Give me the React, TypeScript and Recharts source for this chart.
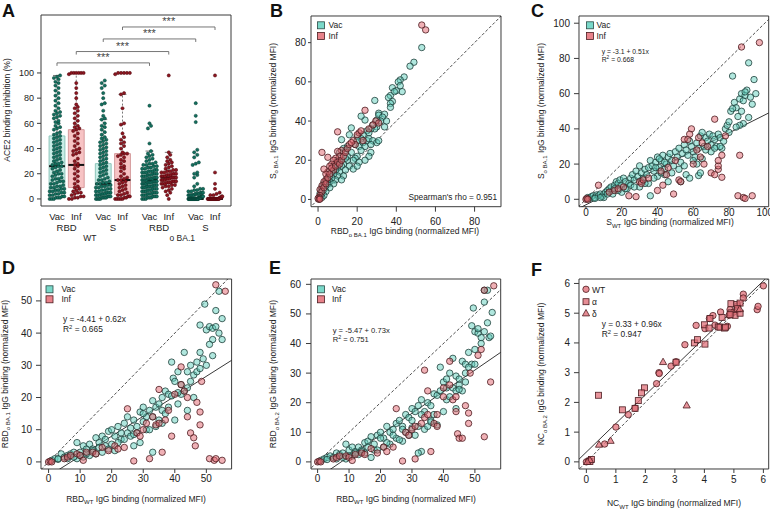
import React from 'react';
import { ComposedChart, Scatter, XAxis, YAxis, ReferenceLine, ReferenceArea } from 'recharts';

const FONT = '"Liberation Sans", Arial, Helvetica, sans-serif';
const INK = '#3a3a3a';
const VAC_FILL = '#62cfbe';
const VAC_EDGE = '#1f3f3a';
const INF_FILL = '#e2646e';
const INF_EDGE = '#4b1c20';
const VAC_DOT = '#13705f';
const INF_DOT = '#8e1620';

type Pt = [number, number];
type Box = { l: number; r: number; t: number; b: number };

// ---------- panel A data ----------
const groupPos = [1, 2, 3.4, 4.4, 5.8, 6.8, 8.2, 9.2];
const groupKind = ['Vac', 'Inf', 'Vac', 'Inf', 'Vac', 'Inf', 'Vac', 'Inf'];
const antigenPos = [1.5, 3.9, 6.3, 8.7];
const antigenLabels = ['RBD', 'S', 'RBD', 'S'];
const variantPos = [2.7, 7.5];
const variantLabels = ['WT', 'ο BA.1'];

const q1 = [6, 9, 3, 3.5, 8, 12, 0, 0];
const medians = [26, 27, 12, 15, 15, 17, 0, 0];
const q3 = [50, 55, 28, 36, 24, 22, 1.5, 0.5];
const whiskHi = [98, 100, 63, 83, 38, 37, 4, 1];

const vacRbdWt = [0, 0, 0, 1, 1, 1, 2, 2, 3, 3, 4, 4, 5, 5, 6, 6, 7, 7, 8, 8, 9, 9, 10, 10, 11,
  12, 12, 13, 14, 14, 15, 16, 16, 17, 18, 19, 20, 20, 21, 22, 23, 24, 25, 26, 26, 27, 28, 28, 29, 30,
  31, 32, 33, 34, 35, 36, 37, 38, 39, 40, 41, 42, 43, 44, 45, 46, 47, 48, 49, 50,
  51, 52, 53, 55, 56, 57, 58, 60, 61, 62, 64, 65, 66, 67, 68, 69, 70,
  72, 74, 76, 78, 80, 82, 84, 86, 88, 90, 92, 93, 95, 96, 97, 98];
const infRbdWt = [0, 0, 1, 1, 2, 2, 3, 4, 5, 5, 6, 7, 8, 9, 10, 12, 14, 16, 18, 20, 22, 24, 26, 27, 28, 30,
  32, 35, 36, 37, 38, 39, 40, 42, 44, 46, 48, 50, 52, 54, 55, 56, 57, 58, 60, 62, 64, 66, 68, 70, 72, 73,
  75, 80, 84, 88, 92, 99, 100, 100, 100, 100, 100, 100];
const vacSWt = [0, 0, 0, 0, 1, 1, 1, 1, 2, 2, 2, 3, 3, 3, 4, 4, 4, 5, 5, 5, 6, 6, 7, 7, 8, 8, 9, 9, 10, 10,
  11, 11, 12, 12, 13, 13, 14, 15, 15, 16, 17, 18, 19, 20, 21, 22, 23, 24, 25, 26, 27, 28, 29, 30, 31, 32,
  33, 34, 35, 36, 37, 38, 39, 40, 41, 42, 43, 44, 45, 46, 47, 48, 49, 51, 53, 55, 57, 58, 60, 63, 64, 66,
  70, 75, 76, 80, 84, 88, 90, 92, 94];
const infSWt = [0, 0, 0, 0, 0, 1, 1, 2, 2, 3, 3, 4, 5, 6, 7, 8, 9, 10, 11, 12, 13, 14, 15, 15, 16, 17, 18,
  20, 22, 24, 25, 26, 28, 30, 31, 33, 34, 35, 36, 36, 37, 40, 42, 44, 45, 47, 49, 52, 59, 60, 72, 83, 84,
  99, 100, 100, 100, 100, 100];
const vacRbdBa1 = [0, 0, 0, 1, 1, 1, 2, 2, 2, 3, 3, 3, 4, 4, 4, 5, 5, 5, 6, 6, 6, 7, 7, 7, 8, 8, 8, 9, 9, 9,
  10, 10, 10, 10, 11, 11, 11, 12, 12, 12, 12, 13, 13, 13, 13, 14, 14, 14, 14, 15, 15, 15, 15, 16, 16, 16,
  16, 17, 17, 17, 18, 18, 18, 19, 19, 19, 20, 20, 20, 21, 21, 21, 22, 22, 22, 23, 23, 24, 24, 25, 25, 26,
  26, 27, 27, 28, 28, 29, 30, 31, 32, 33, 34, 35, 36, 38, 44, 56, 58, 60, 74];
const infRbdBa1 = [0, 3, 5, 6, 7, 8, 9, 10, 10, 11, 11, 12, 12, 12, 13, 13, 13, 14, 14, 14, 15, 15, 15, 16,
  16, 16, 17, 17, 17, 17, 18, 18, 18, 19, 19, 19, 20, 20, 20, 21, 21, 22, 22, 23, 23, 24, 25, 26, 27, 28,
  29, 30, 31, 33, 35, 37, 98];
const vacSBa1 = [0, 0, 0, 0, 0, 0, 0, 0, 0, 0, 0, 0, 0, 0, 0, 0, 0, 0, 0, 0, 0, 0, 0, 0, 0, 0, 0, 0, 0, 0,
  1, 1, 1, 1, 1, 1, 1, 1, 2, 2, 2, 2, 2, 2, 3, 3, 3, 3, 3, 4, 4, 4, 4, 5, 5, 5, 6, 6, 7, 7, 8, 8, 10, 12,
  17, 19, 20, 21, 27, 28, 29, 33, 35, 37, 39, 61, 66, 76];
const infSBa1 = [0, 0, 0, 0, 0, 0, 0, 0, 0, 0, 0, 0, 0, 0, 0, 0, 0, 0, 0, 0, 0, 0, 1, 1, 1, 1, 2, 2, 3, 3,
  4, 5, 8, 12, 21, 98];
const groupValues = [vacRbdWt, infRbdWt, vacSWt, infSWt, vacRbdBa1, infRbdBa1, vacSBa1, infSBa1];

const bracketFrom = [1, 2, 3.4, 4.4];
const bracketTo = [5.8, 6.8, 8.2, 9.2];
const bracketLevel = [108, 117, 127, 136.5];
const bracketStars = ['***', '***', '***', '***'];

// ---------- panel B ----------
const bVac: Pt[] = [[53, 77.5], [49, 70], [47, 68], [44, 62.5], [42, 61], [41, 60], [42, 58], [43, 55], [38, 57], [40, 55.5],
  [39, 55], [37, 53], [36, 52], [38, 50], [37, 49], [37, 47], [29, 50.5], [31, 44], [31, 43], [34, 43.5], [33, 42],
  [35, 40], [32, 40], [30, 40.5], [34, 37], [30, 37], [29, 36], [28, 38], [27, 36], [24, 40.5], [22, 42.5], [25, 35],
  [26, 34], [23, 33], [22, 31], [20, 32], [20, 30], [19, 28], [21, 27], [23, 29], [25, 30], [26, 31], [28, 30], [30, 29],
  [31, 30], [27, 28], [24, 27], [22, 25], [20, 22], [19, 21], [18, 20], [17, 24], [17, 36.5], [16, 33], [15, 27],
  [14, 25], [13, 26], [12, 30.5], [11, 24], [15, 20], [13, 18], [16, 17], [18, 15.5], [12, 17], [10, 16], [11, 14],
  [9, 15], [10, 12], [8, 13], [9, 10], [7, 11], [6, 9], [8, 8], [5, 8], [6, 6], [4, 7], [3, 5], [4, 4], [2, 3], [3, 2],
  [2, 1], [1, 1], [27, 24], [26, 22], [24, 20], [21, 19], [20, 17], [15, 22], [14, 21], [13, 12], [12, 10], [14, 15],
  [10, 20], [9, 18], [8, 17], [11, 19], [5, 10], [7, 14], [6, 12], [4, 9], [3, 8], [2, 6], [1, 3], [1.5, 4.5]];
const bInf: Pt[] = [[53, 89], [55, 86.5], [24, 45.5], [29.5, 40], [31, 39], [28, 38], [26, 36], [10, 34.5], [21, 34],
  [20, 33], [18, 30], [23, 30], [19, 28], [2, 24], [12, 25], [10, 24.5], [11, 22], [9, 21], [8, 20], [5, 21.5], [7, 18],
  [6, 17], [8, 15], [5, 14], [4, 13], [3, 15.5], [4, 10], [3, 9], [2, 7], [1, 5], [2, 4], [1, 2], [0.5, 1], [0, 0.5],
  [0.5, 0], [1, 0.2], [3, 6], [4, 8], [5, 11], [6, 13], [7, 16], [9, 17], [10, 19], [11, 18], [12, 20], [13, 22],
  [14, 24], [15, 26], [16, 28], [17, 29], [22, 35]];

// ---------- panel C ----------
const cVac: Pt[] = [[1, 1], [2, 0.5], [3, 1.5], [4, 2], [5, 1], [6, 2.5], [7, 2], [8, 3], [9, 1.5], [10, 3], [11, 4],
  [12, 5], [13, 6], [14, 7], [15, 5], [16, 8], [17, 10], [18, 9], [19, 11], [20, 8], [21, 12], [22, 10], [23, 6],
  [24, 9], [25, 12], [26, 14], [27, 11], [28, 16], [29, 13], [30, 19], [31, 15], [32, 12], [33, 17], [34, 14],
  [35, 18], [36, 22], [37, 19], [38, 16], [39, 21], [40, 24], [41, 18], [42, 22], [43, 25], [44, 17], [45, 20],
  [46, 24], [47, 26], [48, 22], [49, 19], [50, 27], [51, 24], [52, 29], [53, 21], [54, 26], [55, 31], [56, 28],
  [57, 25], [58, 33], [59, 30], [60, 27], [61, 24], [62, 32], [63, 29], [64, 36], [65, 38], [66, 30], [67, 35],
  [68, 33], [69, 37], [70, 31], [71, 36], [72, 34], [73, 30], [74, 37], [75, 35], [76, 29], [77, 33], [78, 40],
  [79, 42], [80, 44], [81, 50], [82, 70], [83, 55], [84, 52], [85, 47], [86, 57], [87, 60], [88, 56], [89, 59],
  [90, 62], [91, 77.5], [92, 58], [93, 54], [94, 68], [95, 60], [91, 46.5], [88, 43], [86, 42], [84, 41], [87, 50],
  [89, 61], [82, 51.5], [80, 38], [75, 30], [70, 27], [65, 23], [60, 22], [55, 19], [52, 17], [48, 15], [44, 14],
  [40, 13], [36, 2], [35, 9], [30, 7], [25, 8], [20, 4], [15, 3], [10, 1], [38, 12], [42, 15], [46, 10], [53, 10],
  [56, 14], [58, 12], [63, 13.5], [64, 15], [62, 20], [67, 28], [72, 29], [44, 21], [41, 23], [39, 18], [33, 9],
  [31, 10], [27, 7], [22, 6], [18, 5], [16, 6], [12, 3], [8, 1], [5, 0.5]];
const cInf: Pt[] = [[87, 86.5], [97, 89], [0, 0], [0.5, 0.5], [1, 0], [7, 8], [13, 4], [16, 5], [18, 6], [21, 7], [24, 2],
  [28, 1.5], [30, 10], [31, 9], [32, 11], [35, 12], [40, 5], [43, 8], [45, 14], [49, 3], [52, 11], [53, 10], [55, 34],
  [57, 34], [59, 40], [58, 37], [62, 28], [64, 24], [66, 20], [60, 20], [70, 15], [72, 14], [74, 17], [74, 19],
  [76, 25], [74, 22], [76, 12.5], [72, 45.5], [78, 36], [86, 25], [85, 2], [88, 1], [89, 0.5], [93, 2], [42, 16],
  [46, 18], [50, 22], [65, 32], [68, 30], [63, 35]];

// ---------- panel D ----------
const dVac: Pt[] = [[1, 0.5], [2, 1], [3, 0.8], [4, 2.5], [5, 1.5], [6, 2], [7, 2.5], [8, 3], [9, 6], [10, 3], [11, 5],
  [12, 4], [13, 5.5], [14, 4], [15, 7.5], [16, 6], [17, 8], [18, 5], [19, 9.5], [20, 10], [21, 8], [22, 11], [23, 9],
  [24, 12], [25, 14], [26, 10.5], [27, 13], [28, 11], [29, 15.5], [30, 17], [31, 14], [32, 16], [33, 19], [34, 17],
  [35, 18], [36, 20], [37, 22], [38, 21], [39, 31], [39.5, 26], [40, 25], [41, 28], [42, 24], [43, 34], [44, 28],
  [45, 30], [46, 27], [47, 31], [48, 34], [49, 32], [50, 30], [48, 42.5], [49.5, 49], [50, 41], [51, 42], [52, 41.5],
  [53, 42], [52, 38], [53, 47], [54, 53], [55, 44.5], [54, 40], [55, 38], [51, 36.5], [52, 33], [45, 25], [43, 22],
  [41, 18], [40, 13], [38, 17], [36, 16], [34, 11], [33, 3], [31, 10], [29, 6], [27, 5], [25, 9], [23, 7], [21, 3.5],
  [19, 4], [17, 3], [15, 2.5], [13, 2], [11, 1.5], [9, 1], [44, 16], [46, 20], [42, 21], [39, 20.5], [37, 15],
  [35, 13], [30, 12.5], [28, 9], [26, 8], [24, 7], [22, 6], [20, 5.5], [18, 7], [16, 4.5], [14, 3.5], [12, 2.5],
  [10, 2], [8, 1.5], [6, 1], [3, 1], [33, 14], [32, 10], [27, 8.5], [47, 28], [48, 29], [44, 23], [41, 21.5],
  [36, 12], [30, 15]];
const dInf: Pt[] = [[0, 0], [0.5, 0.2], [1, 0], [5, 1], [6, 1.5], [7, 2], [9, 2.5], [10, 2], [11, 0.5], [12, 3], [14, 3],
  [15, 2.5], [17, 4.5], [19, 3.5], [21, 5], [22, 4], [24, 4.5], [25, 16.5], [27, 0.3], [28, 9], [29, 8], [30, 10],
  [31, 12], [32, 1], [33, 14], [34, 11.5], [35, 12], [36, 3], [37, 13], [39, 8], [40, 21], [42, 29.5], [43, 22],
  [44, 14], [45, 9], [46, 7.5], [46.5, 5], [48, 15.5], [48, 11.5], [47, 18.5], [48.5, 25], [51, 1], [52.5, 0.5],
  [53, 1], [55, 0.5], [53, 55], [56, 53], [44, 20], [38, 16], [42, 24], [35, 22.5]];

// ---------- panel E ----------
const eVac: Pt[] = [[1, 0.5], [2, 1], [3, 1.5], [4, 2], [5, 1.5], [6, 3], [7, 2.5], [8, 3], [9, 6], [10, 4], [11, 5],
  [12, 3.5], [13, 5], [14, 4], [15, 6.5], [16, 7], [17, 8.5], [18, 4], [19, 9], [20, 10], [21, 8], [22, 12], [23, 10],
  [24, 11], [25, 13], [26, 14], [27, 12], [28, 16], [29, 15], [30, 18], [31, 17], [32, 19], [33, 21], [34, 17],
  [35, 20], [36, 19], [37, 23], [38, 22.5], [39, 32], [40, 27], [41, 28], [42, 30], [43, 35], [44, 29], [45, 26],
  [46, 34], [47, 33], [48, 37], [49, 33], [50, 33], [49, 46], [49.5, 52], [50, 44], [51, 43.5], [51, 45], [52, 42],
  [53, 54], [53, 44], [54, 58], [54.5, 42], [55, 42.5], [55.5, 50.5], [52, 40], [53, 58], [54, 47], [50, 38],
  [45, 28], [43, 25], [41, 21], [40, 17], [38, 12.5], [36, 14], [34, 11], [33, 3.5], [32, 3], [31, 9], [29, 9],
  [27, 7], [25, 8], [23, 6], [21, 5], [19, 4], [17, 1.5], [15, 3], [13, 2.5], [11, 2], [9, 1], [44, 18], [46, 24],
  [42, 22], [39, 24], [37, 16], [35, 12], [30, 14], [28, 10], [26, 7.5], [24, 9], [22, 6.5], [20, 8], [18, 6],
  [16, 5], [14, 3.5], [12, 3], [10, 2], [8, 1.5], [6, 1], [3, 0.8], [33, 16], [32, 12], [27, 11], [47, 30], [48, 32],
  [44, 24], [41, 25], [36, 13.5], [30, 11.5], [45, 24.5], [47, 27]];
const eInf: Pt[] = [[0, 0], [0.5, 0.2], [1, 0], [5, 1], [6, 1.5], [7, 2], [9, 2], [10, 1.5], [11, 0.5], [12, 2.5], [14, 3],
  [15, 2.5], [17, 4.5], [19, 3], [21, 5], [22, 3.5], [24, 5], [25, 18], [27, 0.3], [28, 10], [29, 9], [30, 11],
  [31, 12], [31, 1], [33, 13], [34, 15], [35, 16], [36, 3.5], [37, 13], [38, 12], [40, 22], [42, 34], [43, 21],
  [44, 17], [44.5, 9.5], [45, 8], [46, 8], [48, 16.5], [48, 13], [47, 19], [48.5, 30], [51, 36], [52, 38], [53, 8.5],
  [55, 27], [53, 58], [56, 59.5], [44, 22], [38, 16], [42, 26], [35, 24], [34, 31], [40, 25]];

// ---------- panel F ----------
const fWt: Pt[] = [[0, 0], [0.07, 0.04], [0.62, 0.6], [1, 1.17], [1.42, 1.59], [1.65, 1.81], [2.38, 2.63], [2.46, 3.0],
  [2.47, 2.97], [2.87, 3.22], [3.34, 3.94], [3.72, 4.59], [4.02, 4.48], [4.17, 4.82], [4.29, 4.92], [4.36, 4.6],
  [4.55, 5.04], [4.78, 4.56], [4.84, 4.93], [4.87, 5.12], [5.0, 5.04], [5.13, 5.25], [5.32, 5.64], [5.32, 5.51],
  [5.79, 5.12], [5.82, 5.23], [6.0, 5.92], [3.04, 3.37]];
const fAlpha: Pt[] = [[0.41, 2.24], [1.22, 1.75], [1.97, 2.49], [1.87, 2.32], [1.76, 2.06], [3.04, 3.35], [3.66, 4.0],
  [3.77, 4.11], [4.02, 3.96], [4.0, 4.61], [4.16, 4.5], [4.19, 4.82], [4.47, 4.54], [4.53, 4.53], [4.68, 4.5],
  [4.72, 4.53], [4.9, 5.32], [4.9, 5.01], [5.04, 4.93], [5.1, 5.29], [5.21, 5.34], [5.21, 5.0], [4.6, 4.86],
  [4.87, 4.95], [0.12, 0.01], [0.17, 0.08], [5.13, 5.15], [1.65, 1.8]];
const fDelta: Pt[] = [[0.43, 0.58], [0.82, 0.71], [2.6, 3.36], [3.4, 1.9], [0.12, 0.06], [0.03, 0], [5.2, 5.14]];

// ---------- layout helpers ----------
const YW = 40;
const MT = 8;
const MR = 4;

function place(box: Box, xh: number) {
  return {
    style: { position: 'absolute' as const, left: box.l - YW, top: box.t - MT },
    width: YW + (box.r - box.l) + MR,
    height: MT + (box.b - box.t) + xh,
    margin: { top: MT, right: MR, bottom: 0, left: 0 },
  };
}

const tickStyle = { fontSize: 10, fill: '#222', fontFamily: FONT };

function swarm(values: number[], center: number) {
  const sorted = [...values].sort((a, b) => a - b);
  const bins: number[][] = [];
  let cur: number[] = [];
  let start = sorted[0];
  sorted.forEach((v) => {
    if (v - start > 2.6 && cur.length) {
      bins.push(cur);
      cur = [];
      start = v;
    }
    cur.push(v);
  });
  if (cur.length) bins.push(cur);
  const out: { x: number; y: number }[] = [];
  bins.forEach((b) => {
    const n = b.length;
    const step = n > 1 ? Math.min(0.16, 0.76 / (n - 1)) : 0;
    b.forEach((v, i) => out.push({ x: center + (i - (n - 1) / 2) * step, y: v }));
  });
  return out;
}

function Marker(props: any) {
  const { cx, cy, kind, fill, edge, opacity } = props;
  if (cx == null || cy == null) return null;
  if (kind === 'square') {
    return <rect x={cx - 3} y={cy - 3} width={6} height={6} fill={fill} fillOpacity={opacity} stroke={edge} strokeWidth={0.8} />;
  }
  if (kind === 'triangle') {
    return <path d={`M${cx},${cy - 3.8}L${cx + 3.6},${cy + 2.6}L${cx - 3.6},${cy + 2.6}Z`} fill={fill} fillOpacity={opacity} stroke={edge} strokeWidth={0.8} />;
  }
  return <circle cx={cx} cy={cy} r={3.2} fill={fill} fillOpacity={opacity} stroke={edge} strokeWidth={0.8} />;
}

type Series = { pts: Pt[]; kind: string; fill: string; edge: string; opacity: number };
type AxisGap = { xs: number; xm: number; ys: number; ym: number };

function ScatterPanel(props: {
  box: Box; xDomain: number[]; yDomain: number[]; xTicks: number[]; yTicks: number[];
  series: Series[]; fit?: number[]; gap: AxisGap;
}) {
  const { box, xDomain, yDomain, xTicks, yTicks, series, fit, gap } = props;
  const p = place(box, 30);
  const lo = Math.min(xDomain[0], yDomain[0]) - 10;
  const hi = Math.max(xDomain[1], yDomain[1]) + 10;
  return (
    <div style={p.style}>
      <ComposedChart width={p.width} height={p.height} margin={p.margin}>
        <XAxis type="number" dataKey="x" domain={xDomain} ticks={xTicks} interval={0} allowDataOverflow
          tick={tickStyle} tickSize={gap.xs} tickMargin={gap.xm} axisLine={false} tickLine={{ stroke: INK }} height={30} />
        <YAxis type="number" dataKey="y" domain={yDomain} ticks={yTicks} interval={0} allowDataOverflow
          tick={tickStyle} tickSize={gap.ys} tickMargin={gap.ym} axisLine={false} tickLine={{ stroke: INK }} width={YW} />
        <ReferenceLine segment={[{ x: lo, y: lo }, { x: hi, y: hi }]} stroke="#222" strokeWidth={0.8}
          strokeDasharray="3 2" ifOverflow="hidden" />
        {fit ? (
          <ReferenceLine segment={[{ x: lo, y: fit[0] + fit[1] * lo }, { x: hi, y: fit[0] + fit[1] * hi }]}
            stroke="#222" strokeWidth={0.9} ifOverflow="hidden" />
        ) : null}
        {series.map((s, i) => (
          <Scatter key={i} data={s.pts.map(([x, y]) => ({ x, y }))} isAnimationActive={false}
            shape={(sp: any) => <Marker cx={sp.cx} cy={sp.cy} kind={s.kind} fill={s.fill} edge={s.edge} opacity={s.opacity} />} />
        ))}
        <ReferenceArea x1={xDomain[0]} x2={xDomain[1]} y1={yDomain[0]} y2={yDomain[1]} fill="none" fillOpacity={0}
          stroke={INK} strokeWidth={1} ifOverflow="visible" />
      </ComposedChart>
    </div>
  );
}

function ATick(props: any) {
  const { x, y, payload } = props;
  const v = payload.value;
  const base = { x, textAnchor: 'middle' as const, fontFamily: FONT, fill: '#222' };
  let i = groupPos.indexOf(v);
  if (i >= 0) return <text {...base} y={y + 14} fontSize={9.5}>{groupKind[i]}</text>;
  i = antigenPos.indexOf(v);
  if (i >= 0) return <text {...base} y={y + 24.5} fontSize={9.5}>{antigenLabels[i]}</text>;
  i = variantPos.indexOf(v);
  if (i >= 0) return <text {...base} y={y + 35} fontSize={8.5}>{variantLabels[i]}</text>;
  return null;
}

function PanelA() {
  const box: Box = { l: 41, r: 231, t: 15, b: 206 };
  const p = place(box, 42);
  const xDomain = [0.17, 10.03];
  const yDomain = [-5.6, 146];
  const half = 0.41;
  return (
    <div style={p.style}>
      <ComposedChart width={p.width} height={p.height} margin={p.margin}>
        <XAxis type="number" dataKey="x" domain={xDomain} allowDataOverflow interval={0}
          ticks={[...groupPos, ...antigenPos, ...variantPos]} tick={<ATick />} tickSize={0} tickMargin={0}
          axisLine={false} tickLine={false} height={42} />
        <YAxis type="number" dataKey="y" domain={yDomain} ticks={[0, 20, 40, 60, 80, 100]} interval={0}
          allowDataOverflow tick={{ ...tickStyle, fontSize: 9 }} tickSize={4} tickMargin={3} axisLine={false}
          tickLine={{ stroke: INK }} width={YW} />
        {groupPos.map((pos, i) => {
          const vac = i % 2 === 0;
          return (
            <ReferenceArea key={`box${i}`} x1={pos - half} x2={pos + half} y1={q1[i]} y2={q3[i]}
              fill={vac ? '#c8ede6' : '#f7c3c4'} fillOpacity={1} stroke={vac ? '#8cc4ba' : '#d59a9c'}
              strokeWidth={1} ifOverflow="visible" />
          );
        })}
        {groupPos.map((pos, i) => (
          <ReferenceLine key={`wh${i}`} segment={[{ x: pos, y: q3[i] }, { x: pos, y: whiskHi[i] }]}
            stroke="#555" strokeWidth={0.8} strokeDasharray="2 2" />
        ))}
        {groupPos.map((pos, i) => (
          <ReferenceLine key={`cap${i}`} segment={[{ x: pos - half / 2, y: whiskHi[i] }, { x: pos + half / 2, y: whiskHi[i] }]}
            stroke="#555" strokeWidth={0.8} />
        ))}
        {groupValues.map((vals, i) => (
          <Scatter key={`sw${i}`} data={swarm(vals, groupPos[i])} isAnimationActive={false}
            shape={(sp: any) => (
              <circle cx={sp.cx} cy={sp.cy} r={1.6} fill={i % 2 === 0 ? VAC_DOT : INF_DOT}
                stroke={i % 2 === 0 ? '#063a31' : '#4a060c'} strokeWidth={0.5} />
            )} />
        ))}
        {groupPos.map((pos, i) => (
          <ReferenceLine key={`med${i}`} segment={[{ x: pos - half, y: medians[i] }, { x: pos + half, y: medians[i] }]}
            stroke="#111" strokeWidth={2} />
        ))}
        {bracketFrom.map((f, i) => (
          <ReferenceLine key={`br${i}`} segment={[{ x: f, y: bracketLevel[i] }, { x: bracketTo[i], y: bracketLevel[i] }]}
            stroke="#666" strokeWidth={0.9}
            label={(lp: any) => {
              const vb = lp.viewBox || {};
              return (
                <text x={(vb.x ?? 0) + (vb.width ?? 0) / 2} y={(vb.y ?? 0) - 2} textAnchor="middle" fontSize={11}
                  fontFamily={FONT} fill="#444">{bracketStars[i]}</text>
              );
            }} />
        ))}
        {bracketFrom.map((f, i) => (
          <ReferenceLine key={`bl${i}`} segment={[{ x: f, y: bracketLevel[i] }, { x: f, y: bracketLevel[i] - 2.4 }]}
            stroke="#666" strokeWidth={0.9} />
        ))}
        {bracketTo.map((t, i) => (
          <ReferenceLine key={`brr${i}`} segment={[{ x: t, y: bracketLevel[i] }, { x: t, y: bracketLevel[i] - 2.4 }]}
            stroke="#666" strokeWidth={0.9} />
        ))}
        <ReferenceArea x1={xDomain[0]} x2={xDomain[1]} y1={yDomain[0]} y2={yDomain[1]} fill="none" fillOpacity={0}
          stroke={INK} strokeWidth={1} ifOverflow="visible" />
      </ComposedChart>
    </div>
  );
}

const vacSeries = (pts: Pt[]): Series => ({ pts, kind: 'circle', fill: VAC_FILL, edge: VAC_EDGE, opacity: 0.5 });
const infSeries = (pts: Pt[]): Series => ({ pts, kind: 'circle', fill: INF_FILL, edge: INF_EDGE, opacity: 0.5 });

function Sub({ main, sub, rest }: { main: string; sub: string; rest: string }) {
  return (
    <>
      {main}
      <tspan fontSize={6} dy={2.5}>{sub}</tspan>
      <tspan dy={-2.5}>{rest}</tspan>
    </>
  );
}

function YTitle({ x, y, children }: { x: number; y: number; children: React.ReactNode }) {
  return (
    <text transform={`translate(${x},${y}) rotate(-90)`} textAnchor="middle" fontSize={8.5} fill="#222">{children}</text>
  );
}

function XTitle({ x, y, children }: { x: number; y: number; children: React.ReactNode }) {
  return <text x={x} y={y} textAnchor="middle" fontSize={8.5} fill="#222">{children}</text>;
}

function LegendVI({ x, y, tx, gap }: { x: number; y: number; tx: number; gap: number }) {
  return (
    <g fontSize={8.5} fill="#222">
      <rect x={x - 3.5} y={y - 3.5} width={7} height={7} fill="#7ad8c9" stroke="#2a4a45" strokeWidth={0.8} />
      <rect x={x - 3.5} y={y + gap - 3.5} width={7} height={7} fill="#e8828a" stroke="#4b1c20" strokeWidth={0.8} />
      <text x={tx} y={y + 3}>Vac</text>
      <text x={tx} y={y + gap + 3}>Inf</text>
    </g>
  );
}

function Eq({ x, y, eq, r2, size }: { x: number; y: number; eq: string; r2: string; size: number }) {
  return (
    <g fontSize={size} fill="#222">
      <text x={x} y={y}>{eq}</text>
      <text x={x} y={y + size + 1.5}>R<tspan fontSize={size * 0.7} dy={-3.2}>2</tspan><tspan dy={3.2}>{` = ${r2}`}</tspan></text>
    </g>
  );
}

function Overlay() {
  return (
    <svg width={770} height={510} style={{ position: 'absolute', left: 0, top: 0, pointerEvents: 'none' }}
      fontFamily={FONT}>
      <g fontSize={18} fontWeight="bold" fill="#111">
        <text x={2} y={17}>A</text>
        <text x={270} y={17}>B</text>
        <text x={531} y={17}>C</text>
        <text x={2} y={274}>D</text>
        <text x={269} y={274}>E</text>
        <text x={531} y={276}>F</text>
      </g>
      <YTitle x={10} y={110}>ACE2 binding inhibition (%)</YTitle>
      <YTitle x={275.5} y={111}><Sub main="S" sub="ο BA.1" rest="  IgG binding (normalized MFI)" /></YTitle>
      <XTitle x={405} y={234}><Sub main="RBD" sub="ο BA.1" rest="  IgG binding (normalized MFI)" /></XTitle>
      <YTitle x={544} y={111}><Sub main="S" sub="ο BA.1" rest="  IgG binding (normalized MFI)" /></YTitle>
      <XTitle x={670} y={225}><Sub main="S" sub="WT" rest=" IgG binding (normalized MFI)" /></XTitle>
      <YTitle x={7.5} y={374}><Sub main="RBD" sub="ο BA.1" rest=" IgG binding (normalized MFI)" /></YTitle>
      <XTitle x={136} y={501.5}><Sub main="RBD" sub="WT" rest=" IgG binding (normalized MFI)" /></XTitle>
      <YTitle x={276} y={374}><Sub main="RBD" sub="ο BA.2" rest=" IgG binding (normalized MFI)" /></YTitle>
      <XTitle x={406} y={501.5}><Sub main="RBD" sub="WT" rest=" IgG binding (normalized MFI)" /></XTitle>
      <YTitle x={544} y={374}><Sub main="NC" sub="ο BA.2" rest="  IgG binding (normalized MFI)" /></YTitle>
      <XTitle x={674} y={506}><Sub main="NC" sub="WT" rest="  IgG binding (normalized MFI)" /></XTitle>

      <LegendVI x={321} y={25.3} tx={328.5} gap={10.7} />
      <LegendVI x={590} y={25.3} tx={596.5} gap={10.7} />
      <LegendVI x={49.5} y={289.3} tx={61.5} gap={10} />
      <LegendVI x={321} y={289.3} tx={332} gap={10} />

      <text x={497} y={200} textAnchor="end" fontSize={8.3} fill="#222">Spearman's rho = 0.951</text>
      <Eq x={601.7} y={54} eq="y = -3.1 + 0.51x" r2="0.668" size={6.8} />
      <Eq x={63} y={322} eq="y = -4.41 + 0.62x" r2="0.665" size={8.4} />
      <Eq x={332.7} y={333} eq="y = -5.47 + 0.73x" r2="0.751" size={7.6} />
      <Eq x={601.7} y={327} eq="y = 0.33 + 0.96x" r2="0.947" size={8.4} />

      <g fontSize={8.5} fill="#222">
        <Marker cx={586} cy={289.3} kind="circle" fill="#e0707a" edge="#4b1c20" opacity={0.8} />
        <Marker cx={586} cy={301.7} kind="square" fill="#e0707a" edge="#4b1c20" opacity={0.8} />
        <Marker cx={586} cy={313.3} kind="triangle" fill="#e0707a" edge="#4b1c20" opacity={0.8} />
        <text x={592} y={292.5}>WT</text>
        <text x={592} y={304.9}>α</text>
        <text x={592} y={316.5}>δ</text>
      </g>
    </svg>
  );
}

export default function App() {
  const fFill = '#e0707a';
  return (
    <div style={{ position: 'relative', width: 770, height: 510, background: '#fff', fontFamily: FONT, overflow: 'hidden' }}>
      <style>{'body{margin:0}'}</style>
      <PanelA />
      <ScatterPanel box={{ l: 310.7, r: 500.7, t: 16, b: 206.7 }} xDomain={[-3.6, 93.5]} yDomain={[-3.7, 93.6]}
        xTicks={[0, 20, 40, 60, 80]} yTicks={[0, 20, 40, 60, 80]} series={[vacSeries(bVac), infSeries(bInf)]}
        gap={{ xs: 5, xm: 6, ys: 3, ym: 2 }} />
      <ScatterPanel box={{ l: 579, r: 768.7, t: 16, b: 206.7 }} xDomain={[-3.9, 102.2]} yDomain={[-4.2, 104.1]}
        xTicks={[0, 20, 40, 60, 80, 100]} yTicks={[0, 20, 40, 60, 80, 100]}
        series={[vacSeries(cVac), infSeries(cInf)]} fit={[-3.1, 0.51]}
        gap={{ xs: 2, xm: 0.5, ys: 5, ym: 4 }} />
      <ScatterPanel box={{ l: 40.7, r: 231.3, t: 279.3, b: 469.3 }} xDomain={[-2.4, 58]} yDomain={[-2.2, 56.8]}
        xTicks={[0, 10, 20, 30, 40, 50]} yTicks={[0, 10, 20, 30, 40, 50]}
        series={[vacSeries(dVac), infSeries(dInf)]} fit={[-4.41, 0.62]}
        gap={{ xs: 4, xm: 2, ys: 5, ym: 4 }} />
      <ScatterPanel box={{ l: 311, r: 500.7, t: 279.3, b: 469.3 }} xDomain={[-2.1, 58.2]} yDomain={[-2.4, 61.8]}
        xTicks={[0, 10, 20, 30, 40, 50]} yTicks={[0, 10, 20, 30, 40, 50, 60]}
        series={[vacSeries(eVac), infSeries(eInf)]} fit={[-5.47, 0.73]}
        gap={{ xs: 4, xm: 2, ys: 5, ym: 5 }} />
      <ScatterPanel box={{ l: 579, r: 768.7, t: 279.3, b: 469.3 }} xDomain={[-0.25, 6.18]} yDomain={[-0.24, 6.15]}
        xTicks={[0, 1, 2, 3, 4, 5, 6]} yTicks={[0, 1, 2, 3, 4, 5, 6]}
        series={[
          { pts: fWt, kind: 'circle', fill: fFill, edge: INF_EDGE, opacity: 0.75 },
          { pts: fAlpha, kind: 'square', fill: fFill, edge: INF_EDGE, opacity: 0.75 },
          { pts: fDelta, kind: 'triangle', fill: fFill, edge: INF_EDGE, opacity: 0.75 },
        ]} fit={[0.33, 0.96]}
        gap={{ xs: 4, xm: 3, ys: 5, ym: 4 }} />
      <Overlay />
    </div>
  );
}
